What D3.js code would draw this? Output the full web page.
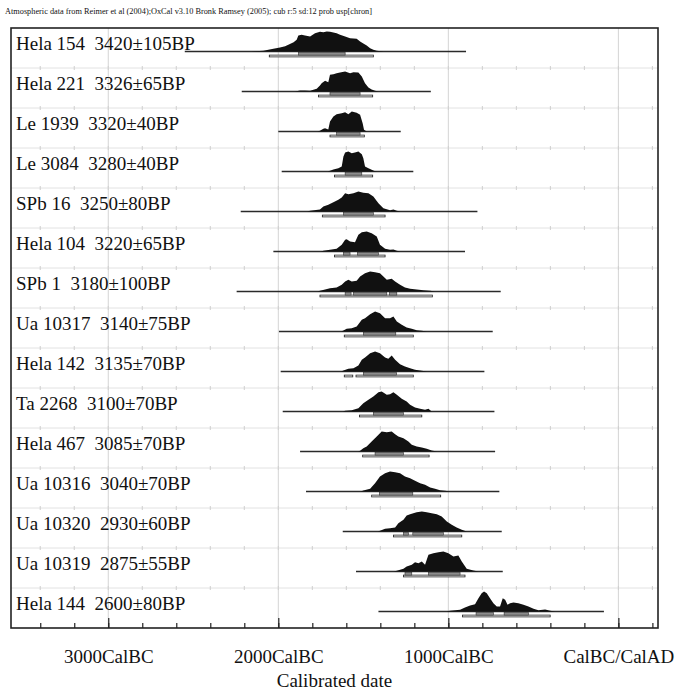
<!DOCTYPE html>
<html><head><meta charset="utf-8">
<script src="https://cdn.jsdelivr.net/npm/d3@7/dist/d3.min.js"></script>
<style>
html,body{margin:0;padding:0;background:#fff;}
svg{display:block;}
text{font-family:"Liberation Serif","Times New Roman",serif;fill:#111;}
</style></head>
<body><svg id="chart" width="679" height="692"></svg>
<script>
// ---------- data ----------
const labels = ["Hela 154","Hela 221","Le 1939","Le 3084","SPb 16","Hela 104","SPb 1","Ua 10317","Hela 142","Ta 2268","Hela 467","Ua 10316","Ua 10320","Ua 10319","Hela 144"];
const bpDates = ["3420±105BP","3326±65BP","3320±40BP","3280±40BP","3250±80BP","3220±65BP","3180±100BP","3140±75BP","3135±70BP","3100±70BP","3085±70BP","3040±70BP","2930±60BP","2875±55BP","2600±80BP"];
// plotted span of each likelihood line (calendar years, negative = BC)
const lineStart = [-2550,-2215,-2000,-1980,-2221,-2029,-2245,-1996,-1986,-1974,-1872,-1837,-1621,-1543,-1411];
const lineEnd   = [-896,-1103,-1280,-1206,-829,-902,-692,-739,-788,-729,-725,-700,-686,-680,-85];
// 68.2% and 95.4% ranges
const range68 = [
  [[-1882,-1607]],
  [[-1696,-1519]],
  [[-1657,-1519]],
  [[-1607,-1509]],
  [[-1617,-1441]],
  [[-1617,-1578],[-1535,-1411]],
  [[-1607,-1572],[-1558,-1362],[-1347,-1303]],
  [[-1500,-1309]],
  [[-1500,-1304]],
  [[-1441,-1264]],
  [[-1431,-1264]],
  [[-1406,-1209]],
  [[-1264,-1235],[-1209,-1029]],
  [[-1255,-1215],[-1117,-931]],
  [[-837,-735],[-672,-529]]
];
const range95 = [
  [[-2053,-1441]],
  [[-1764,-1445]],
  [[-1696,-1494]],
  [[-1670,-1445]],
  [[-1741,-1372]],
  [[-1670,-1372]],
  [[-1755,-1094]],
  [[-1612,-1206]],
  [[-1612,-1562],[-1543,-1206]],
  [[-1523,-1156]],
  [[-1504,-1113]],
  [[-1451,-1045]],
  [[-1323,-921]],
  [[-1264,-902]],
  [[-917,-401]]
];
// probability distributions: [year, relative density (peak = 60)]
const distributions = [
  [[-2160,0],[-2137,1],[-2088,2],[-2029,8],[-1990,12],[-1960,16],[-1941,20],[-1910,28],[-1892,35],[-1882,48],[-1863,50],[-1843,48],[-1813,45],[-1784,55],[-1755,59],[-1735,58],[-1715,60],[-1696,59],[-1676,57],[-1657,55],[-1637,50],[-1607,45],[-1578,40],[-1558,39],[-1539,38],[-1519,30],[-1500,24],[-1480,18],[-1460,10],[-1441,5],[-1421,2],[-1382,0]],
  [[-1900,0],[-1880,2],[-1872,3],[-1843,3],[-1813,2],[-1774,8],[-1755,18],[-1745,25],[-1725,32],[-1706,28],[-1696,50],[-1676,52],[-1657,55],[-1637,57],[-1607,60],[-1578,55],[-1558,58],[-1529,57],[-1509,45],[-1490,25],[-1470,12],[-1451,6],[-1431,2],[-1411,0]],
  [[-1770,0],[-1755,2],[-1735,8],[-1725,10],[-1706,6],[-1696,30],[-1676,45],[-1657,52],[-1627,55],[-1607,58],[-1588,52],[-1568,60],[-1539,56],[-1519,50],[-1504,25],[-1496,5],[-1480,0]],
  [[-1710,0],[-1696,2],[-1676,6],[-1647,10],[-1627,15],[-1617,45],[-1607,57],[-1588,60],[-1568,55],[-1549,57],[-1529,60],[-1509,52],[-1500,40],[-1490,15],[-1470,10],[-1451,5],[-1431,1],[-1420,0]],
  [[-1830,0],[-1813,2],[-1755,6],[-1735,15],[-1706,20],[-1676,28],[-1647,35],[-1627,42],[-1607,55],[-1588,52],[-1558,55],[-1529,60],[-1500,56],[-1470,55],[-1441,45],[-1411,25],[-1382,10],[-1343,4],[-1323,6],[-1303,2],[-1284,0]],
  [[-1750,0],[-1735,2],[-1696,5],[-1657,8],[-1627,20],[-1607,35],[-1598,37],[-1578,30],[-1549,28],[-1529,50],[-1509,58],[-1480,60],[-1451,55],[-1421,45],[-1402,20],[-1372,8],[-1343,5],[-1323,6],[-1303,2],[-1284,0]],
  [[-1770,0],[-1755,2],[-1725,6],[-1696,10],[-1657,12],[-1627,20],[-1607,30],[-1588,35],[-1568,30],[-1539,32],[-1519,45],[-1490,55],[-1460,60],[-1431,58],[-1402,55],[-1382,45],[-1362,35],[-1333,38],[-1313,30],[-1284,20],[-1255,12],[-1225,8],[-1186,6],[-1147,4],[-1107,2],[-1078,0]],
  [[-1630,0],[-1617,3],[-1598,8],[-1568,10],[-1539,15],[-1509,35],[-1490,40],[-1460,52],[-1431,60],[-1402,55],[-1372,40],[-1343,40],[-1323,45],[-1303,30],[-1274,20],[-1245,12],[-1215,8],[-1186,4],[-1156,2],[-1127,0]],
  [[-1630,0],[-1617,3],[-1588,8],[-1558,10],[-1529,18],[-1509,35],[-1490,42],[-1460,55],[-1431,60],[-1402,55],[-1372,42],[-1353,38],[-1333,48],[-1313,35],[-1284,22],[-1255,15],[-1225,10],[-1196,5],[-1156,2],[-1127,0]],
  [[-1620,0],[-1607,2],[-1568,4],[-1529,10],[-1500,25],[-1470,35],[-1441,45],[-1411,58],[-1392,60],[-1362,50],[-1343,52],[-1323,58],[-1303,50],[-1274,38],[-1245,30],[-1225,20],[-1196,12],[-1166,8],[-1137,5],[-1117,8],[-1098,0]],
  [[-1530,0],[-1519,2],[-1500,10],[-1480,15],[-1451,30],[-1421,45],[-1392,60],[-1362,58],[-1333,60],[-1313,52],[-1294,45],[-1264,40],[-1235,30],[-1215,20],[-1186,15],[-1156,12],[-1127,8],[-1098,3],[-1068,0]],
  [[-1515,0],[-1500,3],[-1460,8],[-1431,25],[-1402,45],[-1372,55],[-1343,60],[-1313,58],[-1284,55],[-1255,45],[-1225,40],[-1196,32],[-1166,25],[-1137,20],[-1107,12],[-1078,8],[-1049,4],[-1019,2],[-990,0]],
  [[-1415,0],[-1402,2],[-1372,8],[-1343,10],[-1313,12],[-1294,25],[-1264,35],[-1245,48],[-1225,52],[-1206,55],[-1186,58],[-1156,60],[-1127,58],[-1098,55],[-1068,52],[-1039,45],[-1009,30],[-980,20],[-951,12],[-921,5],[-892,0]],
  [[-1320,0],[-1303,2],[-1264,8],[-1245,15],[-1215,20],[-1196,28],[-1176,25],[-1156,30],[-1137,20],[-1117,50],[-1088,55],[-1058,58],[-1029,60],[-1000,55],[-970,45],[-941,48],[-921,30],[-892,8],[-853,3],[-823,0]],
  [[-1010,0],[-990,2],[-931,5],[-902,12],[-872,18],[-843,22],[-823,40],[-804,55],[-790,60],[-774,55],[-755,40],[-735,25],[-715,15],[-696,15],[-680,40],[-666,35],[-652,20],[-637,25],[-617,27],[-588,25],[-558,20],[-529,15],[-499,8],[-470,4],[-431,6],[-401,2],[-372,0]]
];
const axisYears = [-3000,-2000,-1000,0];
const axisLabels = ["3000CalBC","2000CalBC","1000CalBC","CalBC/CalAD"];
const minorYears = d3.range(-3400, 201, 200);
const headerText = "Atmospheric data from Reimer et al (2004);OxCal v3.10 Bronk Ramsey (2005); cub r:5 sd:12 prob usp[chron]";

(function () {
// ---------- layout ----------
const svg = d3.select("#chart");
const pLeft = 11, pRight = 658, pTop = 28, pBottom = 628;
const x = d3.scaleLinear().domain([-3572, 233]).range([pLeft, pRight]);
const row = d3.scaleBand().domain(d3.range(labels.length)).range([pTop, pBottom]);
const dens = d3.scaleLinear().domain([0, 60]).range([0, 20]);
const baseOff = 23.5;

svg.append("text").attr("x", 5).attr("y", 14).attr("font-size", 7.2)
  .attr("textLength", 367).attr("lengthAdjust", "spacingAndGlyphs").text(headerText);

// vertical light grid lines
svg.append("g").selectAll("line").data(axisYears).join("line")
  .attr("x1", d => x(d)).attr("x2", d => x(d)).attr("y1", pTop).attr("y2", pBottom)
  .attr("stroke", "#d4d4d4").attr("stroke-width", 1);

// row separators with small ticks
const sep = svg.append("g");
d3.range(1, labels.length).forEach(i => {
  const y = row(i);
  sep.append("line").attr("x1", pLeft).attr("x2", pRight).attr("y1", y).attr("y2", y)
    .attr("stroke", "#e2e2e2").attr("stroke-width", 1);
  sep.append("g").selectAll("line").data(minorYears).join("line")
    .attr("x1", d => x(d)).attr("x2", d => x(d)).attr("y1", y - 2).attr("y2", y + 2)
    .attr("stroke", "#cfcfcf").attr("stroke-width", 1);
});

// rows
const area = d3.area().x(d => x(d[0])).y0(0).y1(d => -dens(d[1]));
labels.forEach((name, i) => {
  const g = svg.append("g").attr("transform", `translate(0,${row(i) + baseOff})`);
  g.append("line").attr("x1", x(lineStart[i])).attr("x2", x(lineEnd[i])).attr("y1", 0).attr("y2", 0)
    .attr("stroke", "#2a2a2a").attr("stroke-width", 1.4);
  g.append("path").datum(distributions[i]).attr("d", area).attr("fill", "#111");
  g.append("g").selectAll("rect").data(range95[i]).join("rect")
    .attr("x", d => x(d[0])).attr("width", d => x(d[1]) - x(d[0]))
    .attr("y", 3.6).attr("height", 1.8).attr("fill", "#fff").attr("stroke", "#222").attr("stroke-width", 0.8);
  g.append("g").selectAll("rect").data(range68[i]).join("rect")
    .attr("x", d => x(d[0])).attr("width", d => x(d[1]) - x(d[0]))
    .attr("y", 0.8).attr("height", 2.8).attr("fill", "#8c8c8c").attr("stroke", "#333").attr("stroke-width", 0.6);
  svg.append("text").attr("x", 16).attr("y", row(i) + 22).attr("font-size", 19)
    .style("white-space", "pre").text(name + "  " + bpDates[i]);
});

// frame
svg.append("rect").attr("x", pLeft).attr("y", pTop).attr("width", pRight - pLeft).attr("height", pBottom - pTop)
  .attr("fill", "none").attr("stroke", "#222").attr("stroke-width", 1.6);

// axes
const minorAxis = d3.axisBottom(x).tickValues(minorYears).tickSize(-5).tickFormat("");
const majorAxis = d3.axisBottom(x).tickValues(axisYears).tickSize(-10).tickPadding(22)
  .tickFormat((d, i) => axisLabels[i]);
const ga = svg.append("g").attr("transform", `translate(0,${pBottom})`);
ga.call(minorAxis);
const gb = svg.append("g").attr("transform", `translate(0,${pBottom})`);
gb.call(majorAxis);
[ga, gb].forEach(g => { g.select(".domain").remove(); g.selectAll(".tick line").attr("stroke", "#222").attr("stroke-width", 1.2); });
gb.selectAll(".tick text").attr("font-size", 19).attr("font-family", "Liberation Serif, serif").attr("fill", "#111");

svg.append("text").attr("x", (pLeft + pRight) / 2).attr("y", 687).attr("text-anchor", "middle")
  .attr("font-size", 19).text("Calibrated date");
})();
</script></body></html>
